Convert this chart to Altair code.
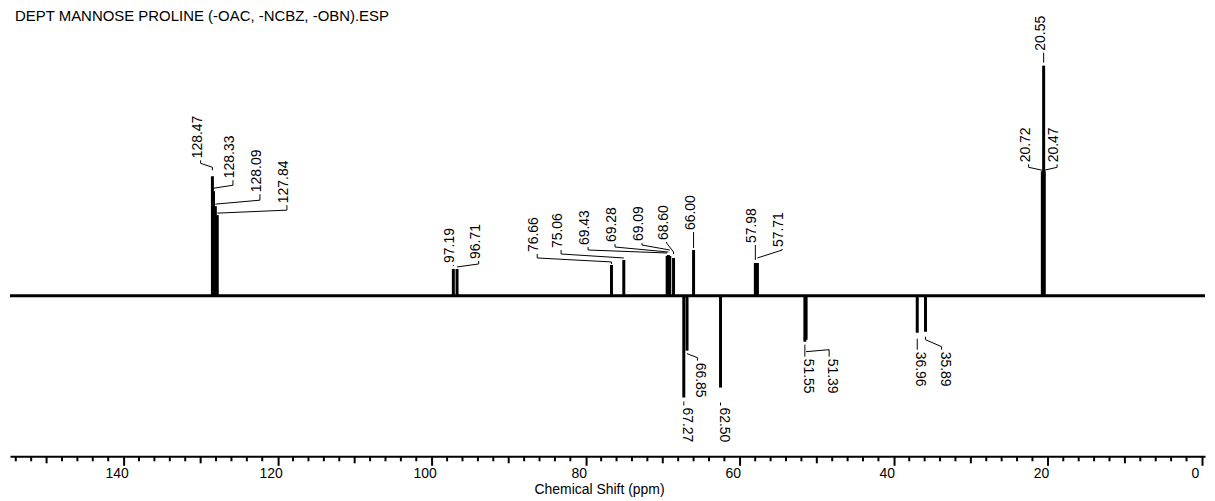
import altair as alt
import pandas as pd

FONT = "Liberation Sans"
TITLE = "DEPT MANNOSE PROLINE (-OAC, -NCBZ, -OBN).ESP"
X_TITLE = "Chemical Shift (ppm)"

# peak list: chemical shift (ppm) and signed DEPT intensity (baseline = 0)
peak_ppm = [128.47, 128.33, 128.09, 127.84, 97.19, 96.71, 76.66, 75.06, 69.43, 69.28,
            69.09, 68.60, 66.00, 57.98, 57.71, 20.72, 20.55, 20.47,
            67.27, 66.85, 62.50, 51.55, 51.39, 36.96, 35.89]
peak_int = [120, 105, 90, 81, 27, 27, 31, 36, 40, 41,
            40, 38, 46, 33, 33, 125, 231, 125,
            -102, -55, -92, -46, -44, -37, -36]
# annotation placement (label position in ppm, leader heights in intensity units)
label_ppm = [130.0, 125.8, 122.3, 118.8, 97.19, 93.9, 86.3, 83.2, 79.7, 76.2,
             72.7, 69.5, 66.0, 57.98, 54.5, 22.5, 20.55, 18.8,
             67.27, 65.5, 62.5, 51.55, 48.4, 36.96, 33.8]
lead_start = [126, 108, 92, 83, 30, 29, 32, 38, 43, 44,
              46, 42, 48, 36, 38, 126, 234, 126,
              -106, -58, -107, -49, -56, -43, -41]
lead_a = [129, 108, 92, 83, 30, 29, 34, 38, 43, 44,
          46, 44, 48, 36, 38, 126, 234, 126,
          -106, -58, -107, -49, -56, -43, -44]
lead_b = [133, 111, 96, 86, 30, 32, 38, 42, 46, 49,
          51, 53, 64, 49, 46, 129, 234, 129,
          -108, -62, -107, -49, -54, -43, -51]
label_base = [138, 118, 104, 93, 33, 37, 44, 48, 51, 54,
              55, 56, 66, 53, 49, 134, 246, 134,
              -112, -67, -112, -63, -63, -56, -56]

major_ticks = [0, 20, 40, 60, 80, 100, 120, 140]
medium_ticks = [10, 30, 50, 70, 90, 110, 130, 150]
minor_ticks = [v for v in range(2, 155, 2) if v % 10 != 0]

X_DOMAIN = [154.75, -0.4]
Y_DOMAIN = [-161, 288]
W, H = 1199, 449

xscale = alt.Scale(domain=X_DOMAIN, nice=False, zero=False)
yscale = alt.Scale(domain=Y_DOMAIN, nice=False, zero=False)
xaxis = alt.Axis(values=major_ticks, format="d", tickSize=9, tickWidth=2, tickColor="black",
                 domainColor="black", domainWidth=2, grid=False,
                 labelFont=FONT, labelFontSize=14, labelColor="black", labelPadding=1,
                 labelOffset=-7, labelFlush=False, labelOverlap=False,
                 title=X_TITLE, titleFont=FONT, titleFontSize=14, titleFontWeight="normal",
                 titleColor="black", titleX=591, titleY=37, titleBaseline="alphabetic",
                 titleAlign="center")


def X(field):
    return alt.X(field, type="quantitative", scale=xscale, axis=xaxis)


peaks = pd.DataFrame({"ppm": peak_ppm, "inten": peak_int, "zero": [0] * len(peak_ppm),
                      "lab": label_ppm, "base": label_base,
                      "text": [f"{p:.2f}" for p in peak_ppm]})

rows = []
for i, p in enumerate(peak_ppm):
    s = 1 if peak_int[i] > 0 else -1
    pts = [(p, lead_start[i]), (p, lead_a[i]), (label_ppm[i], lead_b[i]),
           (label_ppm[i], label_base[i] - 2 * s)]
    for k, (xx, yy) in enumerate(pts):
        rows.append({"pid": i, "k": k, "x": xx, "y": yy})
leaders = pd.DataFrame(rows)

baseline = alt.Chart(pd.DataFrame({"zero": [0]})).mark_rule(
    color="black", strokeWidth=3).encode(
    y=alt.Y("zero:Q", scale=yscale, axis=None))

spikes = alt.Chart(peaks).mark_rule(color="black", strokeWidth=3).encode(
    x=X("ppm"), y=alt.Y("zero:Q", scale=yscale, axis=None), y2="inten:Q")

lead = alt.Chart(leaders).mark_line(color="black", strokeWidth=1).encode(
    x=X("x"), y=alt.Y("y:Q", scale=yscale, axis=None), detail="pid:N", order="k:Q")

pos_labels = alt.Chart(peaks).transform_filter("datum.inten > 0").mark_text(
    angle=270, align="left", baseline="middle", font=FONT, fontSize=14, color="black", dy=-3
).encode(x=X("lab"), y=alt.Y("base:Q", scale=yscale, axis=None), text="text:N")

neg_labels = alt.Chart(peaks).transform_filter("datum.inten < 0").mark_text(
    angle=90, align="left", baseline="middle", font=FONT, fontSize=14, color="black", dy=-3
).encode(x=X("lab"), y=alt.Y("base:Q", scale=yscale, axis=None), text="text:N")

minor = alt.Chart(pd.DataFrame({"t": minor_ticks})).mark_rule(
    color="black", strokeWidth=2).encode(x=X("t"), y=alt.value(H), y2=alt.value(H + 5))
medium = alt.Chart(pd.DataFrame({"t": medium_ticks})).mark_rule(
    color="black", strokeWidth=2).encode(x=X("t"), y=alt.value(H), y2=alt.value(H + 7))

title = alt.Chart(pd.DataFrame({"t": [TITLE]})).mark_text(
    align="left", baseline="alphabetic", font=FONT, fontSize=15, color="black"
).encode(x=alt.value(5), y=alt.value(12), text="t:N")

chart = alt.layer(baseline, spikes, lead, pos_labels, neg_labels, minor, medium, title).properties(
    width=W, height=H,
    padding={"left": 0, "top": 0, "right": 0, "bottom": 0},
    background="white",
).configure_view(stroke=None)

chart.save("out.html", embed_options={"renderer": "svg", "actions": False})
